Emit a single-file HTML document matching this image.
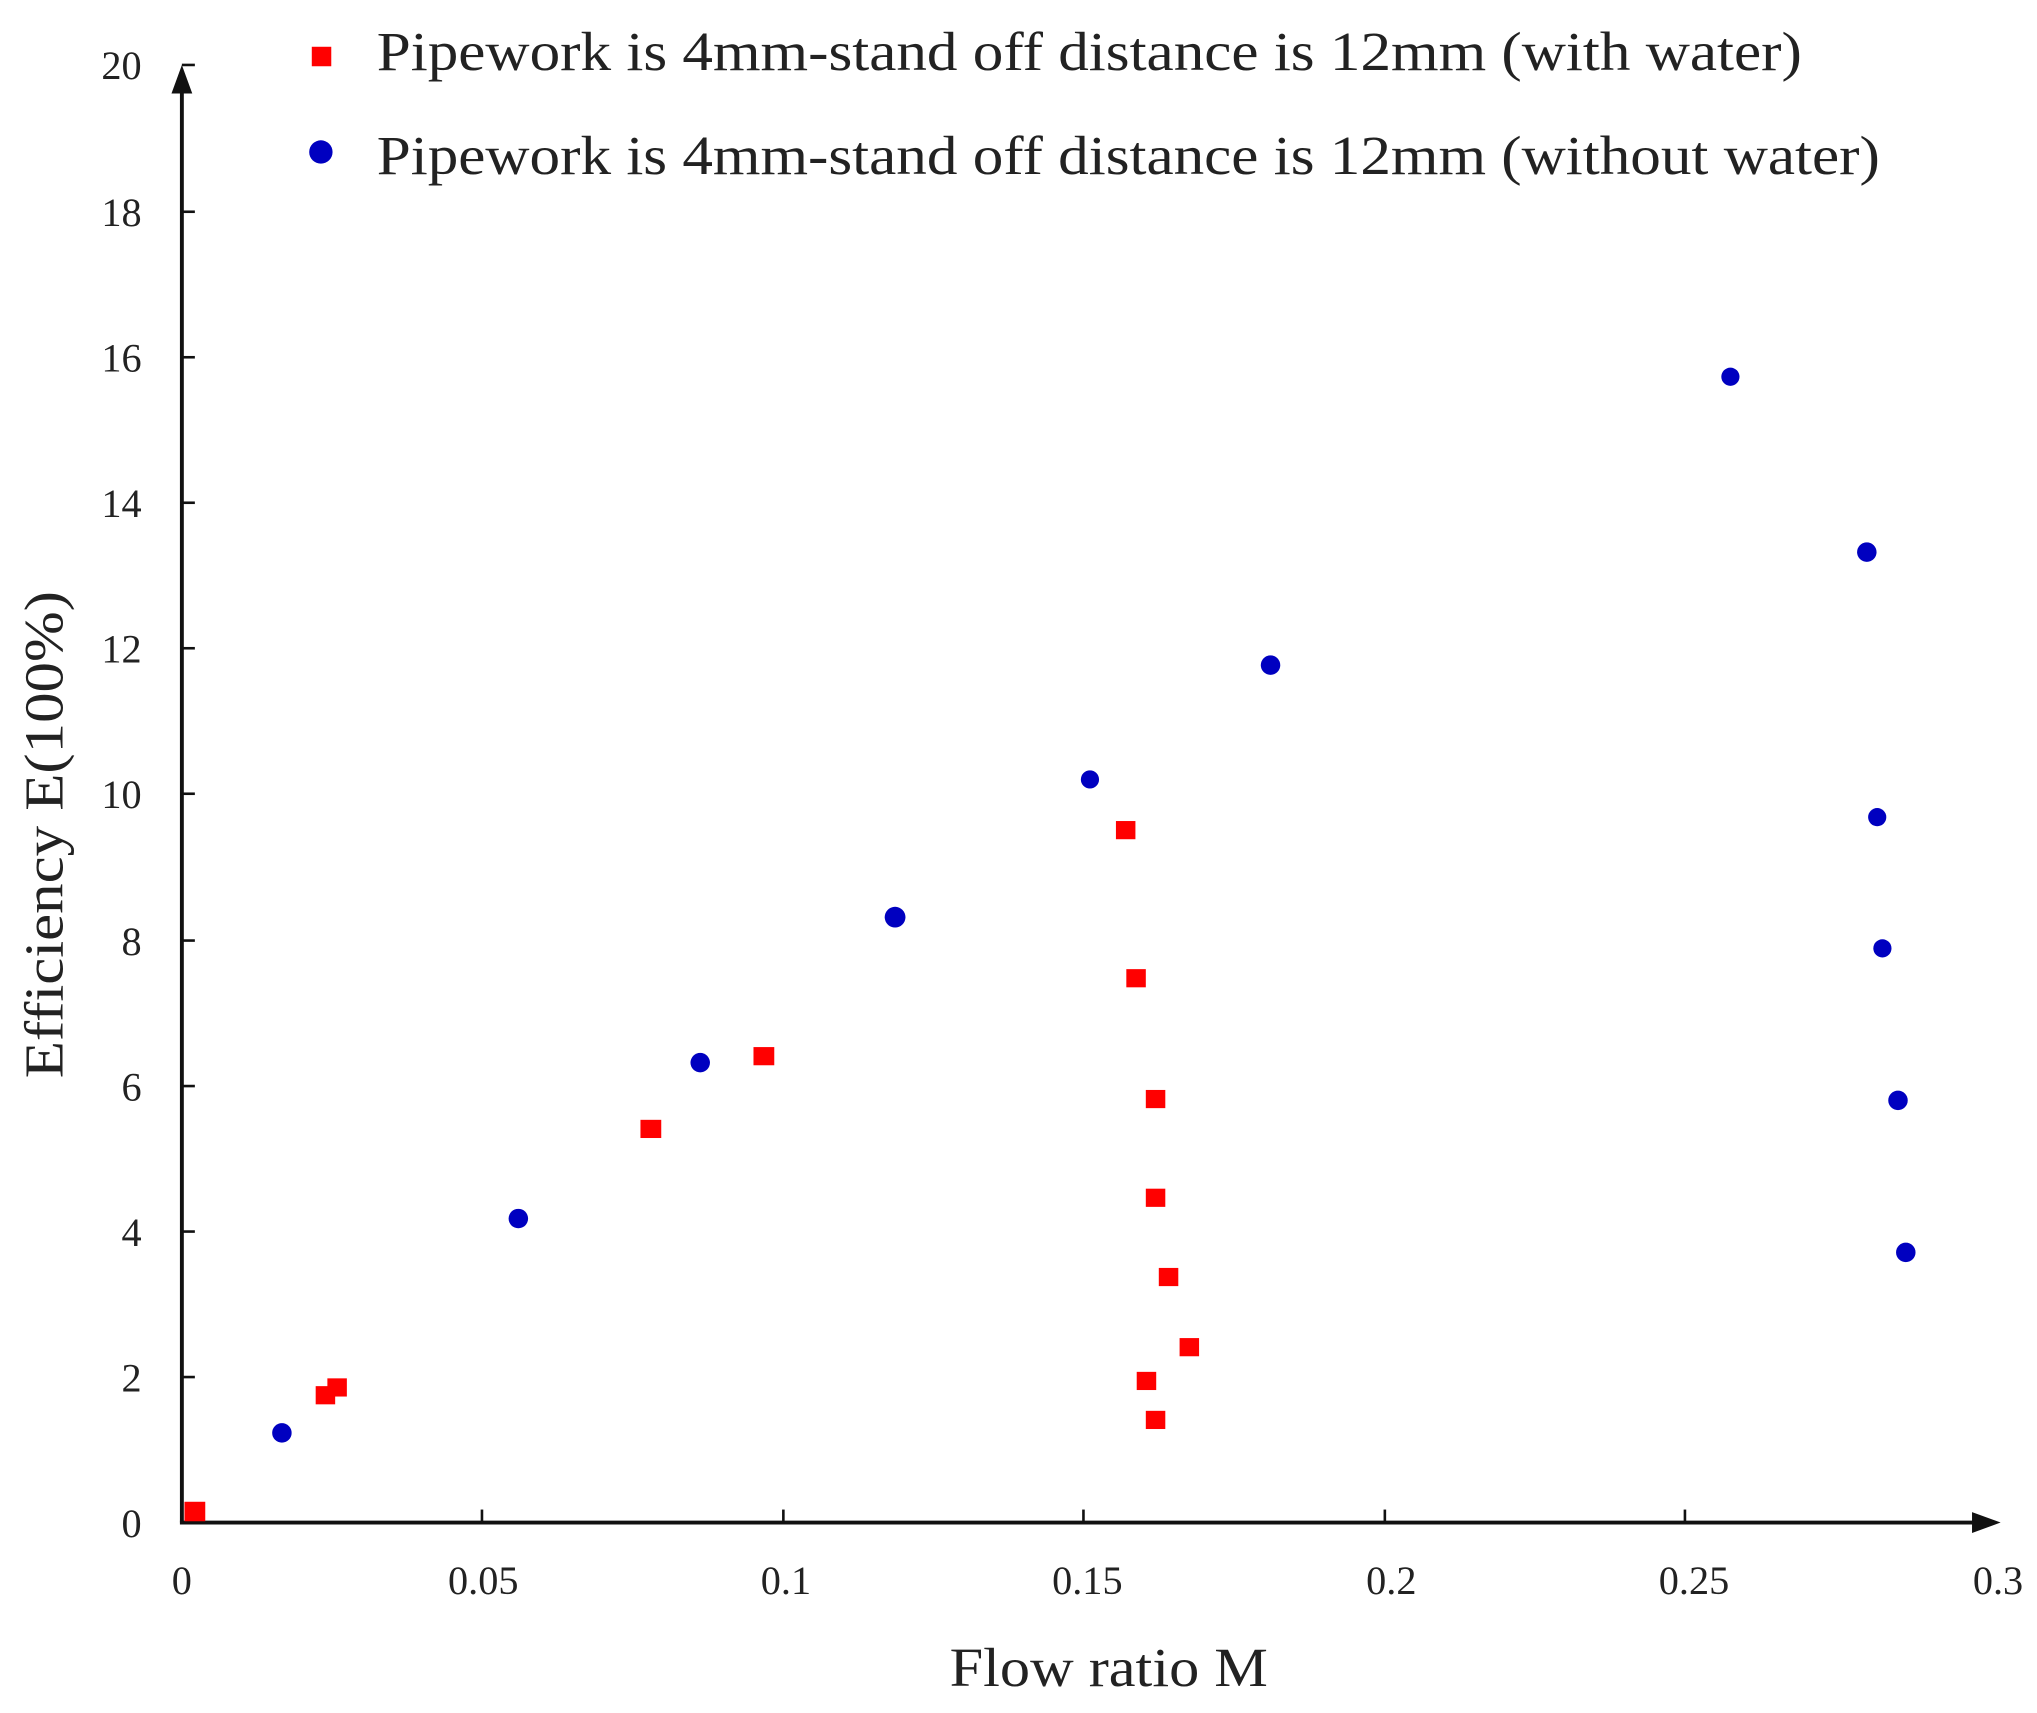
<!DOCTYPE html>
<html><head><meta charset="utf-8"><style>
html,body{margin:0;padding:0;background:#fff;}
svg{display:block;}
text{font-family:"Liberation Serif",serif;fill:#222;}
</style></head><body>
<svg width="2037" height="1713" viewBox="0 0 1568 1318.6" preserveAspectRatio="none" xmlns="http://www.w3.org/2000/svg">
<rect width="1568" height="1318.6" fill="#fff"/>
<line x1="140" y1="1172" x2="140" y2="62" stroke="#111" stroke-width="3"/>
<polygon points="140,50 132,72 148,72" fill="#111"/>
<line x1="138.5" y1="1172" x2="1525" y2="1172" stroke="#111" stroke-width="3"/>
<polygon points="1540,1172 1518,1164 1518,1180" fill="#111"/>
<g stroke="#111" stroke-width="2">
<line x1="140" y1="50" x2="150" y2="50"/>
<line x1="140" y1="163" x2="150" y2="163"/>
<line x1="140" y1="275" x2="150" y2="275"/>
<line x1="140" y1="387" x2="150" y2="387"/>
<line x1="140" y1="499" x2="150" y2="499"/>
<line x1="140" y1="611" x2="150" y2="611"/>
<line x1="140" y1="724" x2="150" y2="724"/>
<line x1="140" y1="836" x2="150" y2="836"/>
<line x1="140" y1="948" x2="150" y2="948"/>
<line x1="140" y1="1060" x2="150" y2="1060"/>
<line x1="371" y1="1172" x2="371" y2="1162"/>
<line x1="603" y1="1172" x2="603" y2="1162"/>
<line x1="834" y1="1172" x2="834" y2="1162"/>
<line x1="1066" y1="1172" x2="1066" y2="1162"/>
<line x1="1297" y1="1172" x2="1297" y2="1162"/>
</g>
<g font-size="31" text-anchor="end">
<text x="109" y="61">20</text><text x="109" y="174">18</text><text x="109" y="286">16</text>
<text x="109" y="398">14</text><text x="109" y="510">12</text><text x="109" y="622">10</text>
<text x="109" y="735">8</text><text x="109" y="847">6</text><text x="109" y="959">4</text>
<text x="109" y="1071">2</text><text x="109" y="1183">0</text>
</g>
<g font-size="31" text-anchor="middle">
<text x="140" y="1227">0</text><text x="372" y="1227">0.05</text><text x="605" y="1227">0.1</text>
<text x="837" y="1227">0.15</text><text x="1071" y="1227">0.2</text><text x="1304" y="1227">0.25</text><text x="1538" y="1227">0.3</text>
</g>
<text x="731" y="1298" font-size="42" textLength="245" lengthAdjust="spacingAndGlyphs">Flow ratio M</text>
<text transform="translate(48,830) rotate(-90)" font-size="42" textLength="375" lengthAdjust="spacingAndGlyphs">Efficiency E(100%)</text>
<rect x="240" y="36" width="15" height="15" fill="#f00"/>
<text x="290" y="54" font-size="42" textLength="1097" lengthAdjust="spacingAndGlyphs">Pipework is 4mm-stand off distance is 12mm (with water)</text>
<circle cx="247" cy="117" r="9" fill="#0000c0"/>
<text x="290" y="134" font-size="42" textLength="1157" lengthAdjust="spacingAndGlyphs">Pipework is 4mm-stand off distance is 12mm (without water)</text>
<g fill="#f00">
<rect x="142" y="1156" width="16" height="15"/>
<rect x="243" y="1067" width="15" height="14"/>
<rect x="252" y="1061" width="15" height="14"/>
<rect x="493" y="862" width="16" height="14"/>
<rect x="580" y="806" width="16" height="14"/>
<rect x="859" y="632" width="15" height="14"/>
<rect x="867" y="746" width="15" height="14"/>
<rect x="882" y="839" width="15" height="14"/>
<rect x="882" y="915" width="15" height="14"/>
<rect x="892" y="976" width="15" height="14"/>
<rect x="908" y="1030" width="15" height="14"/>
<rect x="875" y="1056" width="15" height="14"/>
<rect x="882" y="1086" width="15" height="14"/>
</g>
<g fill="#0000c0">
<circle cx="217" cy="1103" r="7.5"/>
<circle cx="399" cy="938" r="7.5"/>
<circle cx="539" cy="818" r="7.5"/>
<circle cx="689" cy="706" r="8"/>
<circle cx="839" cy="600" r="7"/>
<circle cx="978" cy="512" r="7.5"/>
<circle cx="1332" cy="290" r="7"/>
<circle cx="1437" cy="425" r="7.5"/>
<circle cx="1445" cy="629" r="7"/>
<circle cx="1449" cy="730" r="7"/>
<circle cx="1461" cy="847" r="7.5"/>
<circle cx="1467" cy="964" r="7.5"/>
</g>
</svg>
</body></html>
